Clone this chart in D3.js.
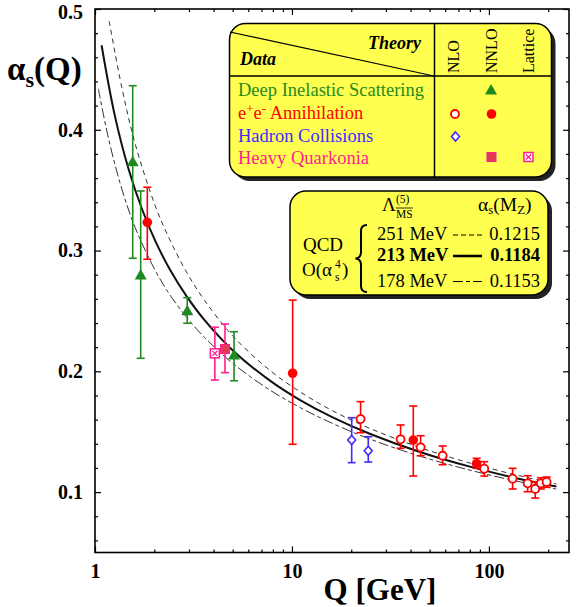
<!DOCTYPE html>
<html><head><meta charset="utf-8">
<script src="https://cdn.jsdelivr.net/npm/d3@7"></script>
<style>body{margin:0;background:#fff}svg{display:block}text{font-family:"Liberation Serif","Times New Roman",serif}</style>
</head><body><svg id="c" width="581" height="607"></svg>
<script>
// ---- data ----
const curveCentralQ = [1.08,1.26,1.48,1.73,2.02,2.4,2.92,3.6,5.04,7.73,11,16,25,45,80,140,220];
const curveCentralA = [0.470,0.4119,0.3675,0.3346,0.3082,0.2843,0.2621,0.2424,0.2169,0.1923,0.1762,0.1621,0.1481,0.1330,0.1211,0.1113,0.1046];
const curveUpperQ = [1.18,1.37,1.6,2.02,2.4,2.92,3.6,5.04,7.73,11,16,25,45,80,140,220];
const curveUpperA = [0.490,0.4346,0.3883,0.3373,0.3088,0.2820,0.2587,0.2288,0.2008,0.1830,0.1675,0.1526,0.1367,0.1241,0.1139,0.1068];
const curveLowerQ = [1.04,1.17,1.37,1.6,2.02,2.4,2.92,3.6,5.04,7.73,11,16,25,45,80,140,220];
const curveLowerA = [0.434,0.3931,0.3507,0.319,0.2837,0.2633,0.2447,0.2280,0.2062,0.1845,0.1700,0.1570,0.1438,0.1296,0.1182,0.1089,0.1025];
// [Q, alpha, low, high]
const disNNLO = [[1.554,0.3736,0.2936,0.4365],[1.706,0.2798,0.2108,0.3493],[2.94,0.2502,0.2398,0.261],[5.08,0.2135,0.1922,0.2328]];
const eeNNLO = [[1.843,0.3234,0.2928,0.3524],[10.08,0.1984,0.1396,0.259],[41.3,0.1431,0.1133,0.1713],[86.6,0.1235,0.1197,0.128]];
const eeNLO = [[22.3,0.1605,0.1492,0.1749],[35.6,0.1437,0.1363,0.1556],[45.0,0.1371,0.1301,0.1467],[58.2,0.1301,0.1227,0.1382],[94.7,0.1194,0.1133,0.1252],[131.9,0.1111,0.1026,0.1197],[157.2,0.1073,0.1003,0.1136],[171.8,0.1026,0.0951,0.1086],[183.6,0.1073,0.1026,0.1119],[196.3,0.1084,0.104,0.1125]];
const hadronNLO = [[20.1,0.1431,0.1244,0.1616],[24.4,0.1343,0.1249,0.1459]];
const hqNNLO = [[4.57,0.2185,0.1989,0.2392]];
const hqLattice = [[4.06,0.2149,0.1928,0.2365]];
const yTicks = [0.1,0.2,0.3,0.4,0.5];
const xTicks = [1,10,100];
const lambdaRows = [["251 MeV","0.1215"],["213 MeV","0.1184"],["178 MeV","0.1153"]];
const legendRows = ["Deep Inelastic Scattering","e+e- Annihilation","Hadron Collisions","Heavy Quarkonia"];

// ---- setup ----
const GREEN="#1f8a1f", RED="#ff0000", BLUE="#3d2bff", PINK="#ff1c8e", SQ="#e33a55", YEL="#ffff50";
const svg = d3.select("#c");
const L=95,R=569,T=9,B=552.5;
const x = d3.scaleLog().domain([1,255]).range([L,R]);
const y = d3.scaleLinear().domain([0.05,0.5]).range([B,T]);

const xMinor = [];
[1,10,100].forEach(d=>{for(let k=2;k<=9;k++){const v=d*k; if(v<=255) xMinor.push(v);}});
const yMinor = d3.range(0.06,0.5,0.02).filter(v=>Math.abs(Math.round(v*10)-v*10)>1e-6);

function styleAxis(g){g.select(".domain").remove();g.selectAll("line").attr("stroke","#000").attr("stroke-width",1.2);}
const fontSet = s=>s.attr("font-size",20).attr("font-weight","bold").attr("fill","#000").style("font-family","'Liberation Serif',serif");
svg.append("g").attr("transform",`translate(${L},0)`).call(d3.axisLeft(y).tickValues(yTicks).tickSize(-6).tickPadding(12).tickFormat(d3.format(".1f")))
  .call(styleAxis).selectAll("text").call(fontSet).attr("dy",d=>d===0.5?"0.45em":"0.32em");
svg.append("g").attr("transform",`translate(${L},0)`).call(d3.axisLeft(y).tickValues(yMinor).tickSize(-3).tickFormat("")).call(styleAxis);
svg.append("g").attr("transform",`translate(${R},0)`).call(d3.axisRight(y).tickValues(yTicks).tickSize(-6).tickFormat("")).call(styleAxis);
svg.append("g").attr("transform",`translate(${R},0)`).call(d3.axisRight(y).tickValues(yMinor).tickSize(-3).tickFormat("")).call(styleAxis);
svg.append("g").attr("transform",`translate(0,${B})`).call(d3.axisBottom(x).tickValues(xTicks).tickSize(-6).tickPadding(11).tickFormat(d3.format("d")))
  .call(styleAxis).selectAll("text").call(fontSet);
svg.append("g").attr("transform",`translate(0,${B})`).call(d3.axisBottom(x).tickValues(xMinor).tickSize(-3).tickFormat("")).call(styleAxis);
svg.append("g").attr("transform",`translate(0,${T})`).call(d3.axisTop(x).tickValues(xTicks).tickSize(-6).tickFormat("")).call(styleAxis);
svg.append("g").attr("transform",`translate(0,${T})`).call(d3.axisTop(x).tickValues(xMinor).tickSize(-3).tickFormat("")).call(styleAxis);
svg.append("rect").attr("x",L).attr("y",T).attr("width",R-L).attr("height",B-T).attr("fill","none").attr("stroke","#000").attr("stroke-width",1.6);

// axis titles
const yt = svg.append("text").attr("x",7).attr("y",80).attr("font-size",33).attr("font-weight","bold");
yt.append("tspan").text("α");
yt.append("tspan").attr("font-size",22).attr("dy",7).text("s");
yt.append("tspan").attr("dy",-7).text("(Q)");
svg.append("text").attr("x",380).attr("y",600).attr("text-anchor","middle").attr("font-size",31).attr("font-weight","bold").text("Q [GeV]");

// curves
const line = d3.line().x(d=>x(d[0])).y(d=>y(d[1])).curve(d3.curveCatmullRom.alpha(0.5));
const zip=(a,b)=>a.map((q,i)=>[q,b[i]]);
const plot = svg.append("g");
plot.append("path").attr("d",line(zip(curveUpperQ,curveUpperA))).attr("fill","none").attr("stroke","#333").attr("stroke-width",1).attr("stroke-dasharray","5,4");
plot.append("path").attr("d",line(zip(curveLowerQ,curveLowerA))).attr("fill","none").attr("stroke","#333").attr("stroke-width",1).attr("stroke-dasharray","10,3,4,3");
plot.append("path").attr("d",line(zip(curveCentralQ,curveCentralA))).attr("fill","none").attr("stroke","#111").attr("stroke-width",2);

function errbars(data,color){
  const g=plot.append("g").attr("stroke",color).attr("stroke-width",1.6);
  data.forEach(d=>{
    const cx=x(d[0]);
    g.append("line").attr("x1",cx).attr("x2",cx).attr("y1",y(d[2])).attr("y2",y(d[3]));
    g.append("line").attr("x1",cx-4).attr("x2",cx+4).attr("y1",y(d[2])).attr("y2",y(d[2]));
    g.append("line").attr("x1",cx-4).attr("x2",cx+4).attr("y1",y(d[3])).attr("y2",y(d[3]));
  });
}
const mk = {
  tri:(g,cx,cy,c)=>g.append("path").attr("d",`M${cx},${cy-6}L${cx+6},${cy+4.5}L${cx-6},${cy+4.5}Z`).attr("fill",c),
  fcirc:(g,cx,cy,c)=>g.append("circle").attr("cx",cx).attr("cy",cy).attr("r",4.8).attr("fill",c),
  ocirc:(g,cx,cy,c)=>g.append("circle").attr("cx",cx).attr("cy",cy).attr("r",4).attr("fill","#fff").attr("stroke",c).attr("stroke-width",1.8),
  diam:(g,cx,cy,c)=>g.append("path").attr("d",`M${cx},${cy-4.5}L${cx+4},${cy}L${cx},${cy+4.5}L${cx-4},${cy}Z`).attr("fill","#fff").attr("stroke",c).attr("stroke-width",1.6),
  fsq:(g,cx,cy,c)=>g.append("rect").attr("x",cx-4.5).attr("y",cy-4.5).attr("width",9).attr("height",9).attr("fill",SQ).attr("stroke",PINK).attr("stroke-width",1),
  xsq:(g,cx,cy,c)=>{g.append("rect").attr("x",cx-4.5).attr("y",cy-4.5).attr("width",9).attr("height",9).attr("fill","#fff").attr("stroke",c).attr("stroke-width",1.5);
    g.append("path").attr("d",`M${cx-2.5},${cy-2.5}L${cx+2.5},${cy+2.5}M${cx+2.5},${cy-2.5}L${cx-2.5},${cy+2.5}`).attr("stroke",c).attr("stroke-width",1.3);}
};
function series(data,color,kind){
  errbars(data,color);
  const g=plot.append("g");
  data.forEach(d=>mk[kind](g,x(d[0]),y(d[1]),color));
}
series(hadronNLO,BLUE,"diam");
series(disNNLO,GREEN,"tri");
series(hqLattice,PINK,"xsq");
series(hqNNLO,PINK,"fsq");
series(eeNLO,RED,"ocirc");
series(eeNNLO,RED,"fcirc");

// ---- legend box 1 ----
function box(x0,y0,w,h,r){
  svg.append("rect").attr("x",x0+4).attr("y",y0+4).attr("width",w).attr("height",h).attr("rx",r).attr("fill","#222");
  svg.append("rect").attr("x",x0).attr("y",y0).attr("width",w).attr("height",h).attr("rx",r).attr("fill",YEL).attr("stroke","#000").attr("stroke-width",1.5);
}
box(229.5,23.5,322,153.5,16);
const lg=svg.append("g");
lg.append("line").attr("x1",230).attr("y1",32).attr("x2",434).attr("y2",76).attr("stroke","#000").attr("stroke-width",1.2);
lg.append("line").attr("x1",434.5).attr("y1",23.5).attr("x2",434.5).attr("y2",177).attr("stroke","#000").attr("stroke-width",1.5);
lg.append("line").attr("x1",229.5).attr("y1",76).attr("x2",551.5).attr("y2",76).attr("stroke","#000").attr("stroke-width",1.5);
lg.append("text").attr("x",421).attr("y",49).attr("text-anchor","end").attr("font-size",18).attr("font-weight","bold").attr("font-style","italic").text("Theory");
lg.append("text").attr("x",240).attr("y",65).attr("font-size",18).attr("font-weight","bold").attr("font-style","italic").text("Data");
[["NLO",453.5],["NNLO",491],["Lattice",528.5]].forEach(([t,cx])=>{
  lg.append("text").attr("transform",`translate(${cx},73) rotate(-90)`).attr("dy","0.35em").attr("font-size",16).text(t);
});
const rowY=[96,119,141.5,163.5], rowC=[GREEN,RED,BLUE,PINK];
legendRows.forEach((t,i)=>{
  const tx=lg.append("text").attr("x",238).attr("y",rowY[i]).attr("font-size",18.5).attr("fill",rowC[i]);
  if(i===1){
    tx.append("tspan").text("e"); tx.append("tspan").attr("font-size",13).attr("dy",-6).text("+");
    tx.append("tspan").attr("dy",6).text("e"); tx.append("tspan").attr("font-size",13).attr("dy",-6).text("-");
    tx.append("tspan").attr("dy",6).text(" Annihilation");
  } else tx.text(t);
});
mk.tri(lg,491,90,GREEN);
mk.ocirc(lg,455,114,RED); mk.fcirc(lg,491.5,114,RED);
mk.diam(lg,455.5,136.5,BLUE);
mk.fsq(lg,491.5,157,PINK); mk.xsq(lg,528.5,157,PINK);

// ---- legend box 2 ----
box(290,191,258,104,16);
const l2=svg.append("g");
l2.append("text").attr("x",382).attr("y",211).attr("font-size",19).text("Λ");
l2.append("text").attr("x",396).attr("y",203).attr("font-size",11.5).text("(5)");
l2.append("text").attr("x",396).attr("y",217.5).attr("font-size",11.5).text("MS");
l2.append("line").attr("x1",396).attr("x2",413).attr("y1",208).attr("y2",208).attr("stroke","#000").attr("stroke-width",0.8);
const am=l2.append("text").attr("x",478).attr("y",211).attr("font-size",19.5);
am.append("tspan").text("α"); am.append("tspan").attr("font-size",13).attr("dy",3).text("s");
am.append("tspan").attr("dy",-3).text("(M"); am.append("tspan").attr("font-size",13).attr("dy",3).text("Z");
am.append("tspan").attr("dy",-3).text(")");
l2.append("text").attr("x",323).attr("y",251).attr("text-anchor","middle").attr("font-size",19).text("QCD");
l2.append("text").attr("x",302).attr("y",276).attr("font-size",19).text("O(α");
l2.append("text").attr("x",335).attr("y",268).attr("font-size",11.5).text("4");
l2.append("text").attr("x",335).attr("y",281).attr("font-size",11.5).text("s");
l2.append("text").attr("x",342).attr("y",276).attr("font-size",19).text(")");
l2.append("path").attr("d","M367,225 Q361,225 361,231 L361,252 Q361,258 355.5,258.5 Q361,259 361,265 L361,286 Q361,292 367,292")
  .attr("fill","none").attr("stroke","#000").attr("stroke-width",2);
const lrY=[240,261,286.5], dash=["5,3",null,"10,3,4,3"];
lambdaRows.forEach((r,i)=>{
  const b=i===1;
  l2.append("text").attr("x",377).attr("y",lrY[i]).attr("font-size",18.5).attr("font-weight",b?"bold":"normal").text(r[0]);
  l2.append("text").attr("x",540).attr("y",lrY[i]).attr("text-anchor","end").attr("font-size",18.5).attr("font-weight",b?"bold":"normal").text(r[1]);
  l2.append("line").attr("x1",453).attr("x2",482).attr("y1",lrY[i]-5).attr("y2",lrY[i]-5).attr("stroke","#000")
    .attr("stroke-width",b?2.5:1.2).attr("stroke-dasharray",dash[i]);
});
</script></body></html>
